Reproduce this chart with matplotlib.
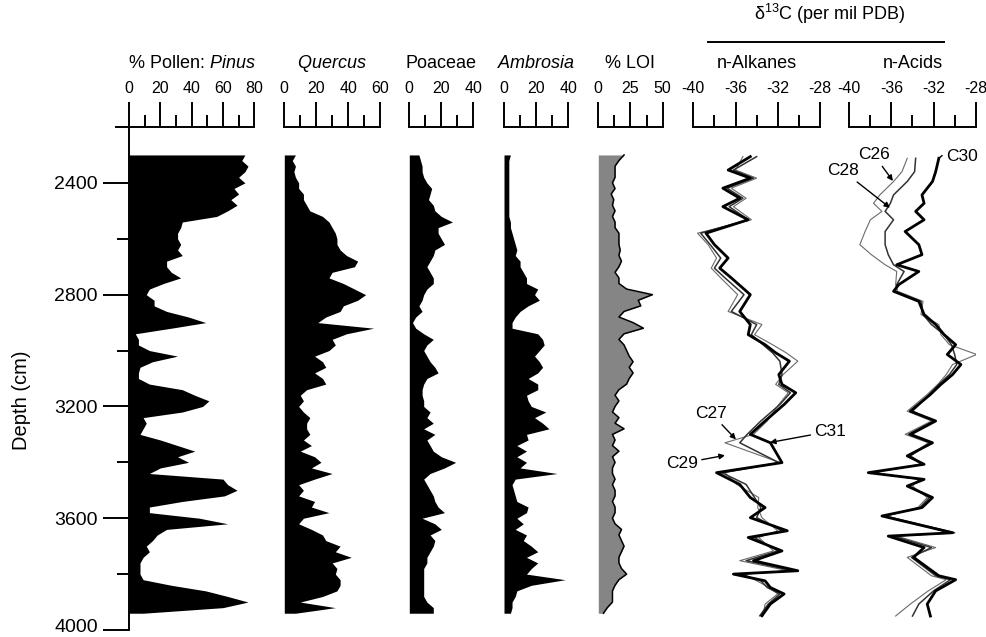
import numpy as np
import matplotlib
matplotlib.use("Agg")
import matplotlib.pyplot as plt
from matplotlib.lines import Line2D
from matplotlib.transforms import ScaledTranslation

plt.rcParams['font.family'] = 'Liberation Sans'
plt.rcParams['mathtext.fontset'] = 'custom'
plt.rcParams['mathtext.rm'] = 'Liberation Sans'
plt.rcParams['mathtext.it'] = 'Liberation Sans:italic'

# pollen / LOI record, read every 20 cm
depth = np.arange(2300, 3960, 20)

pinus = [74, 72, 76, 74, 70, 74, 67, 70, 65, 69,
         63, 56, 34, 33, 31, 31, 33, 31, 34, 24,
         24, 27, 33, 22, 13, 11, 16, 16, 24, 38,
         49, 27, 4, 6, 6, 13, 31, 15, 7, 6,
         6, 13, 34, 42, 51, 47, 34, 9, 11, 9,
         7, 20, 31, 42, 31, 38, 20, 13, 60, 63,
         69, 61, 34, 13, 13, 45, 63, 24, 18, 15,
         11, 13, 9, 7, 7, 7, 9, 27, 49, 63,
         76, 60, 9]

quercus = [7, 5, 7, 6, 7, 9, 9, 12, 12, 14,
           16, 24, 28, 30, 32, 33, 33, 35, 39, 46,
           44, 30, 28, 37, 44, 51, 46, 37, 35, 26,
           21, 56, 39, 30, 32, 28, 19, 24, 26, 19,
           24, 26, 14, 10, 12, 9, 12, 16, 14, 14,
           16, 12, 17, 10, 19, 23, 17, 30, 19, 9,
           12, 9, 19, 17, 28, 12, 9, 17, 24, 26,
           35, 32, 42, 30, 33, 32, 35, 35, 33, 24,
           10, 32, 7]

poaceae = [6, 7, 8, 8, 9, 11, 14, 13, 12, 15,
           16, 20, 27, 18, 18, 20, 22, 16, 15, 13,
           11, 13, 15, 15, 11, 9, 8, 6, 8, 4,
           2, 4, 9, 15, 11, 9, 11, 13, 16, 18,
           11, 9, 8, 8, 9, 9, 13, 11, 15, 9,
           16, 11, 13, 15, 20, 29, 22, 13, 9, 11,
           13, 15, 16, 18, 22, 8, 16, 20, 13, 16,
           15, 13, 11, 11, 9, 9, 9, 9, 9, 9,
           11, 15, 15]

ambrosia = [4, 3, 3, 3, 3, 3, 3, 3, 3, 3,
            3, 3, 4, 4, 5, 6, 7, 8, 7, 10,
            10, 12, 14, 14, 21, 19, 22, 15, 10, 7,
            5, 5, 21, 24, 25, 22, 19, 22, 24, 21,
            15, 21, 21, 14, 15, 17, 26, 19, 24, 28,
            14, 15, 8, 14, 8, 14, 10, 33, 7, 5,
            6, 7, 8, 15, 14, 8, 12, 7, 14, 12,
            17, 21, 14, 21, 17, 14, 38, 17, 8, 7,
            5, 5, 4]

loi = [20, 16, 13, 13, 13, 11, 13, 10, 12, 11,
       13, 11, 13, 13, 16, 16, 16, 17, 16, 18,
       16, 13, 16, 16, 22, 42, 31, 33, 20, 16,
       27, 35, 20, 16, 20, 22, 24, 27, 24, 27,
       24, 22, 16, 13, 16, 13, 11, 16, 13, 20,
       11, 13, 11, 16, 11, 13, 11, 11, 13, 11,
       13, 13, 11, 13, 13, 11, 13, 18, 16, 18,
       20, 18, 16, 16, 18, 22, 16, 13, 11, 11,
       11, 7, 4]

# n-alkane d13C
alk_depth = [2306, 2354, 2383, 2419, 2455, 2485, 2532, 2580, 2621, 2669,
             2705, 2740, 2800, 2860, 2907, 2943, 2979, 3008, 3038, 3086,
             3121, 3151, 3193, 3252, 3300, 3330, 3401, 3437, 3479, 3526,
             3562, 3598, 3645, 3669, 3717, 3752, 3788, 3800, 3824, 3848,
             3871, 3907, 3949]
c31 = [-34.6, -36.7, -34.6, -37.2, -35.6, -37.2, -34.8, -38.8, -38.0, -36.7,
       -37.5, -36.4, -34.6, -35.6, -34.6, -34.8, -33.2, -32.2, -30.9, -31.9,
       -31.6, -30.3, -31.4, -33.2, -34.6, -32.7, -31.6, -37.8, -35.6, -34.6,
       -33.2, -34.6, -31.1, -34.8, -31.6, -34.3, -30.1, -36.2, -33.2, -32.7,
       -31.4, -32.7, -33.5]
c27 = [-34.0, -36.2, -34.3, -36.8, -35.3, -36.6, -34.8, -39.3, -38.4, -37.4,
       -38.0, -37.0, -35.2, -36.4, -34.0, -34.5, -33.4, -32.5, -31.8, -31.6,
       -31.9, -30.8, -31.8, -33.6, -34.9, -35.6, -31.9, -37.3, -35.0, -34.2,
       -33.6, -34.0, -31.6, -34.2, -32.0, -35.0, -30.6, -35.6, -33.6, -33.0,
       -31.8, -32.9, -33.7]
c29 = [-35.3, -36.0, -34.0, -36.4, -35.0, -36.2, -34.5, -39.6, -38.6, -37.8,
       -38.3, -37.4, -35.8, -36.7, -33.5, -34.2, -32.5, -31.2, -30.1, -31.5,
       -32.2, -31.0, -31.9, -33.0, -34.3, -37.0, -31.8, -37.0, -35.9, -33.8,
       -33.9, -33.5, -32.0, -33.8, -32.4, -35.6, -31.0, -35.2, -34.0, -32.8,
       -32.0, -33.2, -33.4]

# n-acid d13C
acid_depth = [2312, 2360, 2395, 2443, 2473, 2502, 2532, 2574, 2621, 2657,
              2693, 2717, 2764, 2788, 2824, 2871, 2907, 2943, 2979, 3014,
              3050, 3086, 3121, 3157, 3217, 3252, 3300, 3330, 3377, 3407,
              3437, 3461, 3485, 3526, 3562, 3592, 3652, 3664, 3705, 3740,
              3806, 3820, 3860, 3907, 3950]
c30 = [-31.5, -31.8, -32.1, -33.1, -32.9, -33.7, -32.9, -34.7, -33.4, -33.1,
       -35.5, -33.4, -35.3, -35.8, -33.4, -32.9, -31.8, -31.0, -29.9, -30.7,
       -29.4, -30.2, -31.3, -32.3, -34.2, -31.8, -34.2, -32.1, -34.5, -32.9,
       -38.2, -32.9, -34.5, -32.1, -33.1, -36.9, -30.2, -36.3, -32.9, -33.9,
       -31.5, -29.9, -31.8, -32.6, -32.3]
c26 = [-34.5, -35.0, -35.8, -37.1, -37.7, -36.9, -38.0, -38.5, -39.0, -37.9,
       -36.6, -35.5, -35.6, -35.4, -33.0, -33.2, -31.5, -31.3, -30.5, -27.9,
       -30.2, -30.8, -31.6, -32.6, -34.5, -32.2, -34.7, -32.5, -34.3, -33.2,
       -37.8, -33.4, -34.0, -32.6, -33.5, -36.5, -30.5, -35.5, -31.8, -34.5,
       -32.2, -30.8, -32.5, -34.2, -35.6]
c28 = [-33.7, -33.8, -34.5, -35.8, -36.1, -36.6, -35.8, -36.6, -36.6, -36.3,
       -35.8, -34.8, -35.5, -35.6, -33.2, -33.0, -32.2, -31.0, -30.3, -30.0,
       -29.8, -30.5, -31.5, -32.4, -34.0, -32.0, -34.4, -32.3, -34.2, -33.0,
       -38.0, -33.1, -34.3, -32.4, -33.3, -36.6, -30.0, -35.8, -32.2, -34.1,
       -31.8, -30.4, -32.0, -33.4, -34.0]

W, H = 987, 637
fig = plt.figure(figsize=(W / 100, H / 100), dpi=100)


def panel(x0, x1, xlim, major, minor, labels, title, mid):
    ax = fig.add_axes([x0 / W, 7 / H, (x1 - x0) / W, 503 / H])
    ax.patch.set_alpha(0)
    ax.set_xlim(*xlim)
    ax.set_ylim(4000, 2200)
    for s in ['left', 'right', 'bottom']:
        ax.spines[s].set_visible(False)
    ax.spines['top'].set_linewidth(1.4)
    ax.xaxis.set_ticks_position('top')
    ax.set_xticks(major)
    ax.set_xticklabels(labels)
    ax.set_xticks(minor, minor=True)
    ax.tick_params(axis='x', which='major', direction='out', length=18, width=1.4,
                   labelsize=11.5, pad=4)
    ax.tick_params(axis='x', which='minor', direction='out', length=9, width=1.4)
    ax.set_yticks([])
    ax.annotate(title, xy=(mid, 1), xycoords=('data', 'axes fraction'), xytext=(0, 46),
                textcoords='offset points', ha='center', va='center', fontsize=13)
    return ax


ax_pin = panel(116.5, 254.3, (-8, 80), [0, 20, 40, 60, 80], [10, 30, 50, 70],
               ['0', '20', '40', '60', '80'], '% Pollen: $\\mathit{Pinus}$', 40)
ax_que = panel(284.3, 380, (0, 60), [0, 20, 40, 60], [10, 30, 50],
               ['0', '20', '40', '60'], '$\\mathit{Quercus}$', 30)
ax_poa = panel(409.3, 473.3, (0, 40), [0, 20, 40], [10, 30],
               ['0', '20', '40'], 'Poaceae', 20)
ax_amb = panel(504, 568.3, (0, 40), [0, 20, 40], [10, 30],
               ['0', '20', '40'], '$\\mathit{Ambrosia}$', 20)
ax_loi = panel(598.3, 662.7, (0, 50), [0, 25, 50], [12.5, 37.5],
               ['0', '25', '50'], '% LOI', 25)
iso_labels = ['-40', '-36', '-32', '-28']
ax_alk = panel(693.3, 820, (-40, -28), [-40, -36, -32, -28], [-38, -34, -30],
               iso_labels, 'n-Alkanes', -34)
ax_acd = panel(849.3, 975.7, (-40, -28), [-40, -36, -32, -28], [-38, -34, -30],
               iso_labels, 'n-Acids', -34)

# depth axis on the Pinus panel
ax_pin.spines['left'].set_visible(True)
ax_pin.spines['left'].set_position(('data', 0))
ax_pin.spines['left'].set_linewidth(1.4)
ax_pin.set_yticks([2400, 2800, 3200, 3600, 4000])
ax_pin.set_yticks([2600, 3000, 3400, 3800], minor=True)
ax_pin.tick_params(axis='y', which='major', direction='out', length=19, width=1.4,
                   labelsize=14, pad=3.5)
ax_pin.tick_params(axis='y', which='minor', direction='out', length=8.6, width=1.4)
# keep the bottom label inside the canvas
lab = ax_pin.yaxis.get_major_ticks()[-1].label1
lab.set_transform(lab.get_transform() + ScaledTranslation(0, 3 / 72, fig.dpi_scale_trans))
fig.text(22 / W, 1 - 400 / H, 'Depth (cm)', rotation=90, ha='center', va='center',
         fontsize=14.5)

# pollen silhouettes
for ax, vals in [(ax_pin, pinus), (ax_que, quercus), (ax_poa, poaceae), (ax_amb, ambrosia)]:
    ax.fill_betweenx(depth, 0, vals, color='black', lw=0)
ax_loi.fill_betweenx(depth, 0, loi, color='#858585', lw=0)
ax_loi.plot(loi, depth, color='black', lw=1.1)

# isotope curves
ax_alk.plot(c29, alk_depth, color='#6a6a6a', lw=0.8)
ax_alk.plot(c27, alk_depth, color='#333333', lw=1.1)
ax_alk.plot(c31, alk_depth, color='black', lw=2.0)
ax_acd.plot(c26, acid_depth, color='#6a6a6a', lw=0.8)
ax_acd.plot(c28, acid_depth, color='#333333', lw=1.1)
ax_acd.plot(c30, acid_depth, color='black', lw=2.0)

arrow = dict(arrowstyle='-|>', color='black', lw=1.0, mutation_scale=8, shrinkA=1, shrinkB=0)
ax_alk.annotate('C27', xy=(-35.96, 3318), xytext=(-38.3, 3225), fontsize=12.5,
                ha='center', va='center', arrowprops=arrow)
ax_alk.annotate('C31', xy=(-32.74, 3329), xytext=(-27.0, 3289), fontsize=12.5,
                ha='center', va='center', arrowprops=arrow)
ax_alk.annotate('C29', xy=(-37.0, 3375), xytext=(-41.1, 3404), fontsize=12.5,
                ha='center', va='center', arrowprops=arrow)
ax_acd.annotate('C26', xy=(-35.86, 2393), xytext=(-37.66, 2300), fontsize=12.5,
                ha='center', va='center', arrowprops=arrow)
ax_acd.annotate('C28', xy=(-36.14, 2489), xytext=(-40.6, 2357), fontsize=12.5,
                ha='center', va='center', arrowprops=arrow)
ax_acd.annotate('C30', xy=(-31.5, 2312), xytext=(-29.3, 2304), fontsize=12.5,
                ha='center', va='center',
                arrowprops=dict(arrowstyle='-', color='black', lw=1.0, shrinkA=1, shrinkB=0,
                                connectionstyle='arc3,rad=0.4'))

# shared header over the two isotope panels
fig.text(830 / W, 1 - 14 / H, 'δ$^{13}$C (per mil PDB)', ha='center', va='center',
         fontsize=13)
fig.add_artist(Line2D([708 / W, 944 / W], [1 - 42 / H, 1 - 42 / H], color='black', lw=1.4))

fig.savefig('out.png', dpi=100)
